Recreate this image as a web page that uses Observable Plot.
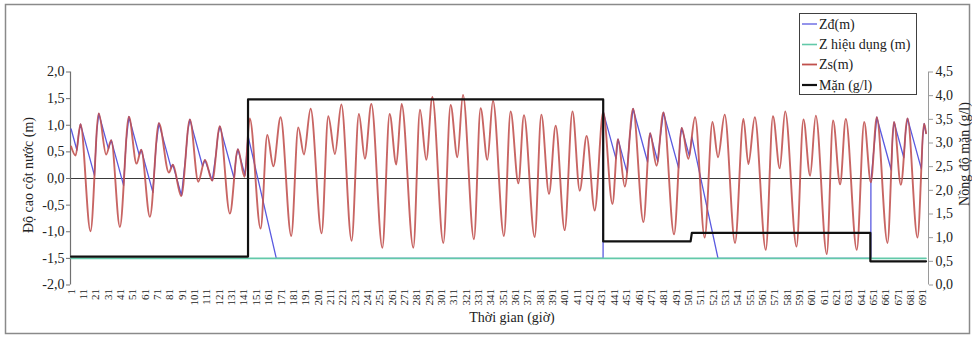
<!DOCTYPE html>
<html><head><meta charset="utf-8">
<script src="https://cdn.jsdelivr.net/npm/d3@7"></script>
<script src="https://cdn.jsdelivr.net/npm/@observablehq/plot@0.6"></script>
<style>body{margin:0;background:#fff} svg{display:block}</style>
</head><body><div id="chart"></div>
<script>
// Zs(m): tidal water level, extrema [hour, m]
const zs = [
[1,0.6],[4.6,0.43],[8.6,1.02],[16.7,-0.99],[23.4,1.22],[29.4,0.45],[33.5,0.72],[40.5,-0.91],[47.8,1.16],[54,0.28],[57.8,0.54],[64.8,-0.72],[72.1,1.04],[80.2,0.11],[83.4,0.26],[90.2,-0.33],[97.2,1.11],[104,-0.06],[109.4,0.35],[115.3,-0.04],[121.5,0.98],[129.6,-0.66],[136.1,0.55],[141.5,0.03],[145.7,1.13],[154.5,-0.94],[159.9,0.82],[164.8,0.23],[170.7,1.15],[179.3,-1.08],[185,0.96],[189.6,0.45],[195,1.31],[203.9,-1.03],[209.3,1.17],[214.7,0.46],[219.9,1.39],[228.2,-1.17],[234.1,1.21],[239,0.37],[244.2,1.40],[253.1,-1.30],[259,1.21],[264.4,0.26],[268.7,1.40],[278.2,-1.30],[283.6,1.29],[288.7,0.35],[293.6,1.53],[302.5,-1.21],[308.4,1.38],[313.9,0.40],[318.4,1.57],[327.3,-1.14],[332.7,1.32],[338.2,0.35],[342.7,1.46],[351.6,-1.08],[357,1.26],[363.3,-0.09],[367.8,1.19],[376.5,-1.10],[381.9,1.20],[388.1,-0.29],[393.5,0.99],[400.8,-0.97],[407.1,1.26],[413,-0.23],[418.6,0.80],[425.1,-0.60],[432,1.25],[439.5,-0.48],[444,0.74],[449.5,-0.15],[456.2,1.31],[464.6,-0.82],[470,0.85],[475.2,0.24],[480.8,1.24],[489.4,-1.05],[495.6,0.95],[501,0.37],[506.4,1.15],[514.2,-1.11],[520.5,1.06],[525,0.40],[530.4,1.20],[538.8,-1.21],[545.6,1.12],[549.6,0.27],[554.8,1.15],[563.7,-1.34],[569.5,1.17],[575,0.19],[579.4,1.26],[588.6,-1.28],[594.2,1.11],[599.6,0.05],[604.2,1.18],[613.1,-1.42],[618.2,1.09],[623.9,-0.11],[628.5,1.12],[637.4,-1.34],[643.4,1.06],[648.8,-0.07],[653.6,1.15],[662.3,-1.21],[667.6,1.06],[673.1,-0.12],[678.5,1.13],[686.6,-1.11],[692,1.03],[693.5,0.85]
];
// Zđ(m) [hour, m]
const zd = [
[1,0.93],[5.7,0.53],[7.1,0.83],[8.6,1.02],[19.9,0.06],[21.7,0.87],[23.4,1.22],[31.2,0.56],[33.5,0.72],[43.5,-0.13],[45.6,0.71],[47.8,1.16],[56.2,0.44],[57.8,0.54],[67.25,-0.26],[69.8,0.61],[72.1,1.04],[82,0.2],[83.4,0.26],[90.4,-0.32],[93.7,0.39],[95.45,0.885],[97.2,1.11],[107.5,0.23],[109.4,0.35],[112.35,0.155],[115.3,-0.04],[118.4,0.47],[119.95,0.82],[121.5,0.98],[133.05,0.0],[134.6,0.39],[136.1,0.55],[141.9,0.06],[143.4,0.5],[144.3,0.8],[167.2,-1.5],[431.9,-1.5],[432,1.25],[442.4,0.37],[444,0.74],[451.3,0.115],[453.5,0.8],[456.2,1.31],[467.95,0.31],[469,0.69],[470,0.85],[476.2,0.32],[478,0.74],[480.8,1.24],[493.06,0.2],[494.36,0.74],[495.6,0.95],[501.8,0.42],[503.8,0.78],[525,-1.5],[648.8,-1.5],[648.85,-0.07],[651.2,0.54],[653.6,1.15],[665.3,0.16],[666.43,0.78],[667.6,1.06],[675.5,0.39],[677,0.89],[678.5,1.13],[689.7,0.18],[690.8,0.77],[692,1.03],[693.5,0.85]
];
// Z hiệu dụng (m)
const zhd = [[1,-1.5],[693.5,-1.5]];
// Mặn (g/l), right axis
const man = [[1,0.6],[144.3,0.6],[144.3,3.92],[432,3.92],[432,0.92],[502.8,0.92],[503.8,1.1],[648.4,1.1],[648.4,0.5],[693.5,0.5]];

const leftTicks = [-2,-1.5,-1,-0.5,0,0.5,1,1.5,2];
const rightTicks = [0,0.5,1,1.5,2,2.5,3,3.5,4,4.5];
const xTicks = [1,11,21,31,41,51,61,71,81,91,101,111,121,131,141,151,161,171,181,191,201,211,221,231,241,251,261,271,281,291,301,311,321,331,341,351,361,371,381,391,401,411,421,431,441,451,461,471,481,491,501,511,521,531,541,551,561,571,581,591,601,611,621,631,641,651,661,671,681,691];

const legendItems = [
  {label: "Zđ(m)", color: "#5a5ae0", width: 1.3},
  {label: "Z hiệu dụng (m)", color: "#62c9a9", width: 1.6},
  {label: "Zs(m)", color: "#c0504d", width: 1.8},
  {label: "Mặn (g/l)", color: "#111111", width: 2.2}
];

// secondary axis mapping: right (g/l) 0..4.5 <-> left (m) -2..2
const rightScale = d3.scaleLinear().domain([0, 4.5]).range([-2, 2]);
const fmt = v => (Math.round(v * 10) / 10).toFixed(1).replace(".", ",");
const FONT = "'Liberation Serif', 'DejaVu Serif', serif";

const chart = Plot.plot({
  width: 972, height: 338,
  marginLeft: 70, marginRight: 44, marginTop: 71.5, marginBottom: 53.5,
  style: {fontFamily: FONT, background: "white", color: "#222"},
  x: {domain: [0.5, 695.5]},
  y: {domain: [-2, 2]},
  marks: [
    Plot.ruleY([0], {stroke: "#3a3a3a", strokeWidth: 1}),
    Plot.ruleX([0.5], {stroke: "#707070", strokeWidth: 1.2}),
    Plot.ruleX([695.5], {stroke: "#9a9a9a", strokeWidth: 1}),
    Plot.axisY(leftTicks, {anchor: "left", tickFormat: fmt, tickSize: 4, tickPadding: 2, fontSize: 14, fontFamily: FONT, label: null, stroke: "#707070"}),
    Plot.axisY(rightTicks.map(v => rightScale(v)), {anchor: "right", tickFormat: d => fmt(rightScale.invert(d)), tickSize: 4, tickPadding: 3, fontSize: 14, fontFamily: FONT, label: null, stroke: "#9a9a9a"}),
    Plot.axisX(xTicks, {anchor: "bottom", tickSize: 0, tickRotate: -90, tickPadding: 4, fontSize: 11, fontFamily: FONT, label: null}),
    Plot.line(zd, {x: d => d[0], y: d => d[1], stroke: legendItems[0].color, strokeWidth: 1.3}),
    Plot.line(zhd, {x: d => d[0], y: d => d[1], stroke: legendItems[1].color, strokeWidth: 1.6}),
    Plot.line(zs, {x: d => d[0], y: d => d[1], stroke: legendItems[2].color, strokeWidth: 1.9, strokeOpacity: 0.88, curve: "monotone-x"}),
    Plot.line(man, {x: d => d[0], y: d => rightScale(d[1]), stroke: legendItems[3].color, strokeWidth: 2.2})
  ]
});

const svg = d3.select(chart).style("font-family", FONT);
// outer frame
svg.insert("rect", ":first-child").attr("x", 5.5).attr("y", 4.5).attr("width", 964).attr("height", 329)
  .attr("fill", "white").attr("stroke", "#8a8a8a").attr("stroke-width", 1.5);

const addText = (sel) => sel.attr("font-family", FONT).attr("font-size", 14).attr("fill", "#222");
// axis titles
addText(svg.append("text").attr("transform", "translate(28,175) rotate(-90)")
  .attr("text-anchor", "middle").attr("dominant-baseline", "central")).text("Độ cao cột nước (m)");
addText(svg.append("text").attr("transform", "translate(964,154) rotate(-90)")
  .attr("text-anchor", "middle").attr("dominant-baseline", "central")).text("Nồng độ mặn (g/l)");
addText(svg.append("text").attr("x", 512).attr("y", 322)
  .attr("text-anchor", "middle")).text("Thời gian (giờ)");

// legend
const lg = svg.append("g").attr("text-anchor", "start");
lg.append("rect").attr("x", 799.5).attr("y", 13.5).attr("width", 117).attr("height", 81)
  .attr("fill", "white").attr("stroke", "#404040").attr("stroke-width", 1);
const ys = [24, 44.5, 64.5, 85];
legendItems.forEach((it, i) => {
  lg.append("line").attr("x1", 802).attr("x2", 817).attr("y1", ys[i]).attr("y2", ys[i])
    .attr("stroke", it.color).attr("stroke-width", it.width);
  addText(lg.append("text").attr("x", 819).attr("y", ys[i]).attr("text-anchor", "start")
    .attr("dominant-baseline", "central")).text(it.label);
});

document.getElementById("chart").appendChild(chart);
</script>
</body></html>
